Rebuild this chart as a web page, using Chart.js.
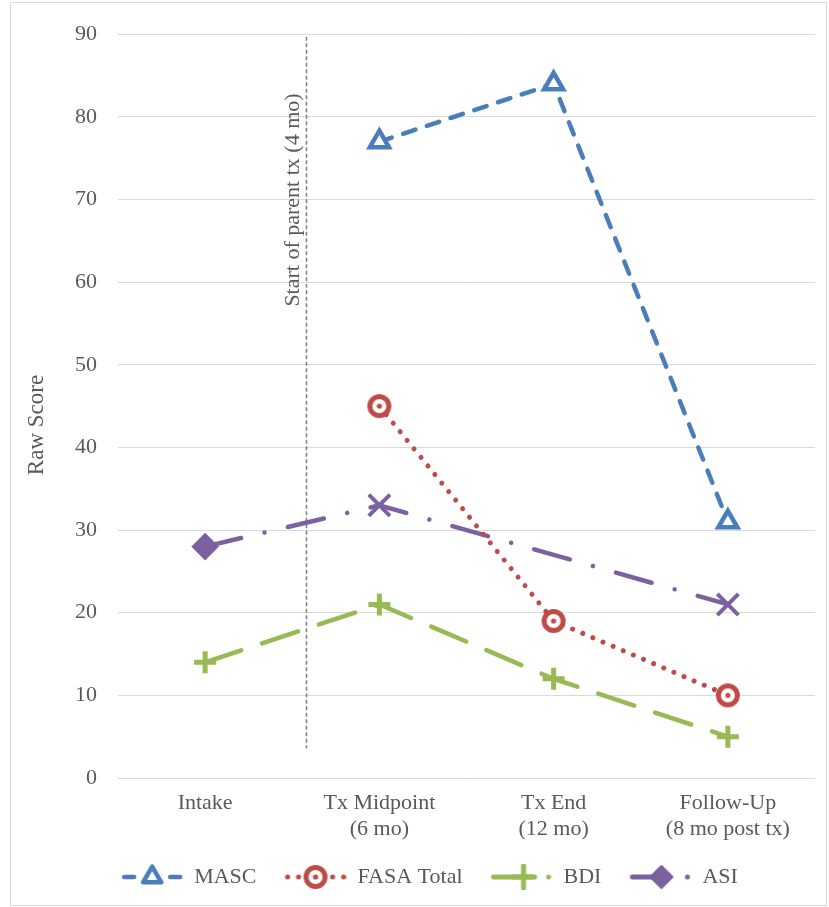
<!DOCTYPE html>
<html><head><meta charset="utf-8">
<script src="https://cdn.jsdelivr.net/npm/chart.js@4/dist/chart.umd.min.js"></script>
<style>
html,body{margin:0;padding:0;background:#fff;}
#wrap{position:relative;width:829px;height:907px;overflow:hidden;}
#frame{position:absolute;left:10px;top:2px;width:817px;height:904px;border:1px solid #d9d9d9;box-sizing:border-box;pointer-events:none;}
canvas{position:absolute;left:0;top:0;}
</style></head><body>
<div id="wrap"><canvas id="c" width="829" height="907"></canvas><div id="frame"></div></div>
<script>
// ---- data ----
const categories = [['Intake'], ['Tx Midpoint', '(6 mo)'], ['Tx End', '(12 mo)'], ['Follow-Up', '(8 mo post tx)']];
const seriesNames = ['MASC', 'FASA Total', 'BDI', 'ASI'];
const mascValues = [null, 77, 84, 31];
const fasaValues = [null, 45, 19, 10];
const bdiValues = [14, 21, 12, 5];
const asiValues = [28, 33, null, 21];
const yMin = 0, yMax = 90, yStep = 10;
const yTitle = 'Raw Score';
const parentTxPosition = 0.58;        // position along category axis
const parentTxSpan = [3.6, 89.7];     // y-extent of the marker line (data units)
const parentTxLabel = 'Start of parent tx (4 mo)';

// ---- styles ----
const FONT = "'Liberation Serif', 'Times New Roman', serif";
const TXT = '#595959';
const C = { masc: '#4a7ebb', fasa: '#be4b48', bdi: '#98b954', asi: '#7d60a0' };

function drawMarker(ctx, kind, x, y, color) {
  ctx.save();
  ctx.strokeStyle = color; ctx.fillStyle = color; ctx.setLineDash([]);
  if (kind === 'triangle') {
    const r = 10.5; ctx.lineWidth = 4.5; ctx.lineJoin = 'round';
    ctx.beginPath();
    for (let i = 0; i < 3; i++) { const a = i * 2 * Math.PI / 3; const px = x + Math.sin(a) * r, py = y - Math.cos(a) * r; i ? ctx.lineTo(px, py) : ctx.moveTo(px, py); }
    ctx.closePath(); ctx.fillStyle = '#fff'; ctx.fill(); ctx.stroke();
  } else if (kind === 'bullseye') {
    ctx.lineWidth = 5; ctx.beginPath(); ctx.arc(x, y, 9.5, 0, 2 * Math.PI); ctx.fillStyle = '#fff'; ctx.fill(); ctx.stroke();
    ctx.fillStyle = color; ctx.beginPath(); ctx.arc(x, y, 2.6, 0, 2 * Math.PI); ctx.fill();
  } else if (kind === 'cross') {
    const r = 11; ctx.lineWidth = 5;
    ctx.beginPath(); ctx.moveTo(x - r, y); ctx.lineTo(x + r, y); ctx.moveTo(x, y - r); ctx.lineTo(x, y + r); ctx.stroke();
  } else if (kind === 'diamond') {
    const r = 11; ctx.lineWidth = 2; ctx.lineJoin = 'round';
    ctx.beginPath(); ctx.moveTo(x, y - r); ctx.lineTo(x + r, y); ctx.lineTo(x, y + r); ctx.lineTo(x - r, y); ctx.closePath(); ctx.fill(); ctx.stroke();
  }
  ctx.restore();
}

function makeBullseye() {
  const cv = document.createElement('canvas'); cv.width = 30; cv.height = 30;
  drawMarker(cv.getContext('2d'), 'bullseye', 15, 15, C.fasa);
  return cv;
}

// legend icon: blank margin at left, symbol content 62px wide
const ICON_PAD = 6, ICON_W = 62 + ICON_PAD;
function makeLegendIcon(color, width, marker, segs, dots, markerX) {
  const cv = document.createElement('canvas'); cv.width = ICON_W; cv.height = 26;
  const ctx = cv.getContext('2d');
  ctx.translate(ICON_PAD, 0);
  ctx.strokeStyle = color; ctx.fillStyle = color; ctx.lineWidth = width; ctx.lineCap = 'round';
  segs.forEach(([a, b]) => { ctx.beginPath(); ctx.moveTo(a, 13); ctx.lineTo(b, 13); ctx.stroke(); });
  dots.forEach(d => { ctx.beginPath(); ctx.arc(d, 13, width / 2, 0, 2 * Math.PI); ctx.fill(); });
  drawMarker(ctx, marker, markerX, 13, color);
  return cv;
}

const dashMasc = [13, 12], dashFasa = [0.01, 11], dashBdi = [38, 22], dashAsi = [37, 24, 0.01, 24];

const legendIcons = [
  makeLegendIcon(C.masc, 4.5, 'triangle', [[3, 13], [49, 59]], [], 31),
  makeLegendIcon(C.fasa, 5, 'bullseye', [], [3, 14, 48, 59], 31),
  makeLegendIcon(C.bdi, 5, 'cross', [[3, 42]], [58], 33),
  makeLegendIcon(C.asi, 5, 'diamond', [[3, 39]], [58], 32)
];

const parentTxPlugin = {
  id: 'parentTx',
  beforeDatasetsDraw(chart) {
    const { ctx, scales: { x, y } } = chart;
    const px = Math.round(x.getPixelForValue(parentTxPosition)) + 0.5;
    ctx.save();
    ctx.strokeStyle = '#7f7f7f'; ctx.lineWidth = 1.5; ctx.setLineDash([4, 2.5]);
    ctx.beginPath(); ctx.moveTo(px, y.getPixelForValue(parentTxSpan[1])); ctx.lineTo(px, y.getPixelForValue(parentTxSpan[0])); ctx.stroke();
    ctx.setLineDash([]);
    ctx.translate(px - 8, 200); ctx.rotate(-Math.PI / 2);
    ctx.font = '22px ' + FONT; ctx.fillStyle = TXT; ctx.textAlign = 'center'; ctx.textBaseline = 'alphabetic';
    ctx.fillText(parentTxLabel, 0, 0);
    ctx.restore();
  },
  afterDraw(chart) {
    const { ctx } = chart;
    ctx.save();
    ctx.translate(37, 425); ctx.rotate(-Math.PI / 2);
    ctx.font = '23px ' + FONT; ctx.fillStyle = TXT; ctx.textAlign = 'center'; ctx.textBaseline = 'middle';
    ctx.fillText(yTitle, 0, 0);
    ctx.restore();
  }
};

const bullseye = makeBullseye();
const common = { fill: false, tension: 0, borderCapStyle: 'round', spanGaps: true, clip: false };

new Chart(document.getElementById('c'), {
  type: 'line',
  data: {
    labels: categories,
    datasets: [
      Object.assign({}, common, { label: seriesNames[0], data: mascValues, borderColor: C.masc, borderWidth: 4.5, borderDash: dashMasc,
        pointStyle: 'triangle', pointRadius: 11, pointBorderWidth: 4.5, pointBackgroundColor: '#fff', pointBorderColor: C.masc }),
      Object.assign({}, common, { label: seriesNames[1], data: fasaValues, borderColor: C.fasa, borderWidth: 5, borderDash: dashFasa,
        pointStyle: bullseye, pointRadius: 12, pointBackgroundColor: '#fff', pointBorderColor: C.fasa }),
      Object.assign({}, common, { label: seriesNames[2], data: bdiValues, borderColor: C.bdi, borderWidth: 4.5, borderDash: dashBdi,
        pointStyle: 'cross', pointRadius: 11, pointBorderWidth: 5, pointBorderColor: C.bdi }),
      Object.assign({}, common, { label: seriesNames[3], data: asiValues, borderColor: C.asi, borderWidth: 4.5, borderDash: dashAsi,
        pointStyle: ['rectRot', 'crossRot', 'crossRot', 'crossRot'], pointRadius: [11, 15, 0, 15], pointBorderWidth: 4,
        pointBackgroundColor: C.asi, pointBorderColor: C.asi })
    ]
  },
  options: {
    responsive: false, animation: false,
    layout: { autoPadding: false, padding: { left: 38, right: 14, top: 31, bottom: 9 } },
    plugins: {
      tooltip: { enabled: false },
      legend: {
        position: 'bottom',
        labels: {
          usePointStyle: true, pointStyleWidth: ICON_W, padding: 22,
          font: { family: FONT, size: 22 }, color: TXT,
          generateLabels(chart) {
            return chart.data.datasets.map((ds, i) => ({
              text: ds.label, pointStyle: legendIcons[i], fillStyle: ds.borderColor, strokeStyle: ds.borderColor,
              lineWidth: 0, hidden: false, datasetIndex: i, fontColor: TXT
            }));
          }
        }
      }
    },
    scales: {
      x: {
        offset: true,
        grid: { display: false, drawTicks: false }, border: { display: false },
        ticks: { font: { family: FONT, size: 22, lineHeight: 1.15 }, color: TXT, padding: 13, maxRotation: 0, autoSkip: false },
        afterFit(s) { s.height = 66; }
      },
      y: {
        min: yMin, max: yMax,
        ticks: { stepSize: yStep, font: { family: FONT, size: 22 }, color: TXT, padding: 21 },
        grid: { color: '#d9d9d9', lineWidth: 1, drawTicks: false },
        border: { display: false },
        afterFit(s) { s.width = 80; }
      }
    }
  },
  plugins: [parentTxPlugin]
});
</script>
</body></html>
